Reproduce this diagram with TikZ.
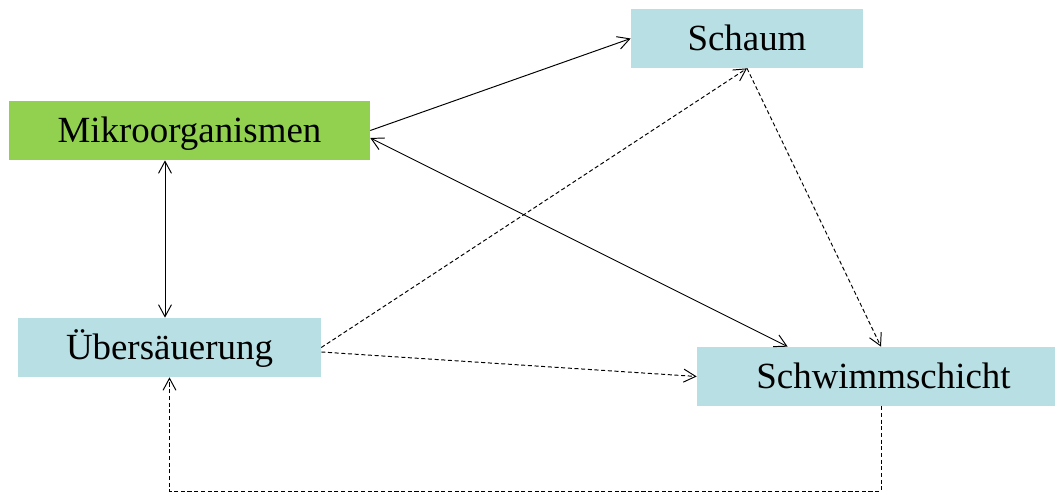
\documentclass[tikz,border=0pt]{standalone}
\usepackage{fontspec}
\setmainfont{Liberation Serif}
\usetikzlibrary{arrows.meta,calc}
\definecolor{boxblue}{HTML}{B8DFE3}
\definecolor{boxgreen}{HTML}{92D050}
\tikzset{
  box/.style={fill=boxblue, inner sep=0pt, minimum height=1.18cm,
    text height=19pt, text depth=4.8pt, font=\fontsize{21}{25}\selectfont},
  link/.style={line width=0.55pt, {Straight Barb[length=2.4mm,width=2.6mm]}-{Straight Barb[length=2.4mm,width=2.6mm]}},
  tip/.style={line width=0.55pt, -{Straight Barb[length=2.4mm,width=2.6mm]}},
  dtip/.style={tip, dash pattern=on 2.3pt off 1.5pt}
}
\begin{document}
\begin{tikzpicture}[x=0.02cm, y=-0.02cm]
  \useasboundingbox (0,0) rectangle (1056,492);
  % boxes
  \node[box, minimum width=4.64cm] (schaum) at (747,38.5) {Schaum};
  \node[box, fill=boxgreen, minimum width=7.22cm] (mikro) at (189.5,130.5) {Mikroorganismen};
  \node[box, minimum width=6.06cm] (uebers) at (169.5,347.5) {Übersäuerung};
  \node[box, minimum width=7.16cm] (schwimm) at (876,376.5) {\hspace*{0.3cm}Schwimmschicht};
  % solid links
  \draw[tip] (mikro.east) -- (schaum.west);
  \draw[link] ($(mikro.east)+(0,7.5)$) -- ($(schwimm.north west)+(91,0)$);
  \draw[link] ($(mikro.south)+(-24.5,0)$) -- ($(uebers.north)+(-4.5,0)$);
  % dashed links
  \draw[dtip] (uebers.east) -- (schaum.south);
  \draw[dtip] ($(uebers.east)+(0,4.5)$) -- (schwimm.west);
  \draw[dtip] (schaum.south) -- ($(schwimm.north)+(5,0)$);
  \draw[dtip] ($(schwimm.south)+(5,0)$) -- ++(0,85) -| (uebers.south);
\end{tikzpicture}
\end{document}
